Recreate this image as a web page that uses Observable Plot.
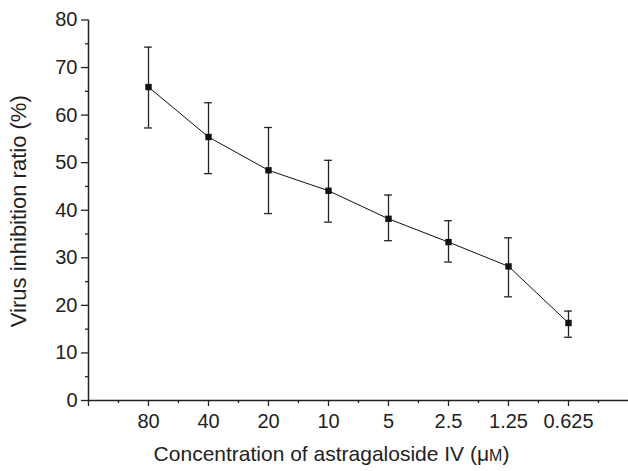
<!DOCTYPE html>
<html>
<head>
<meta charset="utf-8">
<script src="https://cdn.jsdelivr.net/npm/d3@7"></script>
<script src="https://cdn.jsdelivr.net/npm/@observablehq/plot@0.6"></script>
<style>
  html, body { margin: 0; padding: 0; background: #fff; }
</style>
</head>
<body>
<div id="chart"></div>
<script>
// Data
const concentrations = ["80", "40", "20", "10", "5", "2.5", "1.25", "0.625"];
const inhibition = [65.9, 55.4, 48.4, 44.1, 38.2, 33.3, 28.2, 16.3];
const upperBar = [74.3, 62.6, 57.4, 50.5, 43.2, 37.8, 34.2, 18.8];
const lowerBar = [57.3, 47.7, 39.3, 37.5, 33.6, 29.1, 21.8, 13.3];
const yTicks = [0, 10, 20, 30, 40, 50, 60, 70, 80];
const yMinorTicks = [5, 15, 25, 35, 45, 55, 65, 75];

const rows = concentrations.map((c, k) => ({
  i: k + 1, label: c, mean: inhibition[k], hi: upperBar[k], lo: lowerBar[k]
}));
const xMajor = d3.range(0, concentrations.length + 1);
const xMinor = d3.range(0.5, concentrations.length + 1, 1);
const cap = 0.065;
const ink = "#222";

const chart = Plot.plot({
  width: 628,
  height: 471,
  marginLeft: 88,
  marginRight: 0,
  marginTop: 19.5,
  marginBottom: 71,
  style: { fontFamily: "'Liberation Sans', Arial, Helvetica, sans-serif", fontSize: "20px", color: ink, background: "#fff" },
  x: { type: "linear", domain: [0, concentrations.length + 1] },
  y: { domain: [0, 80] },
  marks: [
    Plot.axisY({ ticks: yTicks, tickSize: 7, tickPadding: 4, fontSize: 20, label: null, stroke: ink, fill: ink, strokeWidth: 1.3 }),
    Plot.axisY({ ticks: yMinorTicks, tickSize: 3, tickFormat: () => "", label: null, stroke: ink, strokeWidth: 1.3 }),
    Plot.axisX({ ticks: xMajor, tickSize: 6, tickPadding: 7, fontSize: 20, label: null, stroke: ink, fill: ink, strokeWidth: 1.3,
      tickFormat: v => (v >= 1 && v <= concentrations.length) ? concentrations[v - 1] : "" }),
    Plot.axisX({ ticks: xMinor, tickSize: 3, tickFormat: () => "", label: null, stroke: ink, strokeWidth: 1.3 }),
    Plot.ruleY([0], { stroke: ink, strokeWidth: 1.5 }),
    Plot.ruleX([0], { y1: 0, y2: 80, stroke: ink, strokeWidth: 1.5 }),
    Plot.ruleX(rows, { x: "i", y1: "lo", y2: "hi", stroke: ink, strokeWidth: 1.3 }),
    Plot.ruleY(rows, { y: "hi", x1: d => d.i - cap, x2: d => d.i + cap, stroke: ink, strokeWidth: 1.3 }),
    Plot.ruleY(rows, { y: "lo", x1: d => d.i - cap, x2: d => d.i + cap, stroke: ink, strokeWidth: 1.3 }),
    Plot.line(rows, { x: "i", y: "mean", stroke: "#111", strokeWidth: 1 }),
    Plot.dot(rows, { x: "i", y: "mean", symbol: "square", r: 3.6, fill: "#111", stroke: "none" }),
    Plot.text(["Virus inhibition ratio (%)"], { frameAnchor: "left", textAnchor: "middle", rotate: -90, dx: -69.5, dy: 1, lineAnchor: "middle", fontSize: 22, fill: ink }),
    Plot.text(["Concentration of astragaloside IV (μM)"], { frameAnchor: "bottom", textAnchor: "middle", dx: -27, dy: 53.5, lineAnchor: "middle", fontSize: 21, fill: ink })
  ]
});
document.getElementById("chart").appendChild(chart);

// render the M of the unit in small capitals
d3.select(chart).selectAll("text").each(function () {
  const t = d3.select(this);
  if (t.text() === "Concentration of astragaloside IV (μM)") {
    t.text("Concentration of astragaloside IV (μ");
    t.append("tspan").attr("font-size", "16px").text("M");
    t.append("tspan").text(")");
  }
});
</script>
</body>
</html>
